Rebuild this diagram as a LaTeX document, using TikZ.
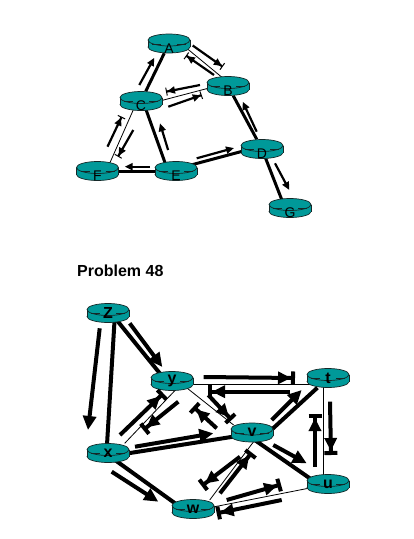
\documentclass[tikz,border=0pt]{standalone}
\usepackage{fontspec}
\setmainfont{Liberation Sans}
\usetikzlibrary{arrows.meta,calc,backgrounds}
\definecolor{rteal}{RGB}{0,153,153}
\definecolor{rdark}{RGB}{20,40,40}
\tikzset{
 rfill/.style={fill=rteal,draw=rdark,line width=0.7pt},
 rline/.style={draw=rdark,line width=0.7pt},
 tlab/.style={inner sep=0pt,minimum width=42pt,minimum height=19pt,text height=19pt,text depth=0pt,font=\fontsize{14}{14}\selectfont},
 blab/.style={inner sep=0pt,minimum width=42pt,minimum height=19pt,font=\fontsize{16}{16}\selectfont\bfseries},
 thinlink/.style={line width=0.8pt},
 tthick/.style={line width=3pt},
 bthick/.style={line width=4pt},
 tarr/.style={line width=2.2pt,-{Triangle[length=8pt,width=7pt]}},
 tbar/.style={line width=2.2pt,-{Triangle[length=8pt,width=7pt]Bar[width=8pt,line width=1pt]}},
 barr/.style={line width=4pt,-{Triangle[length=14pt,width=13pt]}},
 bbar/.style={line width=4pt,-{Triangle[length=13pt,width=12pt]Bar[width=13pt,line width=4pt]}},
}
\newcommand\routerdraw[1]{%
 \begin{scope}[shift={#1}]
   \filldraw[rfill] (0,3.5) ellipse [x radius=21pt,y radius=6pt];
   \fill[rteal] (-21,-3.5) rectangle (21,3.5);
   \draw[rline] (-21,-3.5)--(-21,3.5) (21,-3.5)--(21,3.5);
   \filldraw[rfill] (0,-3.5) ellipse [x radius=21pt,y radius=6pt];
   \draw[rline] (-17,0.5)--(-8,0.5) (8,0.5)--(17,0.5);
 \end{scope}}
\begin{document}
\begin{tikzpicture}[x=1pt,y=-1pt]
\useasboundingbox (0,0) rectangle (414,539);
% top routers
\routerdraw{(169,43.5)}\node[tlab] (A) at (169,43.5) {A};
\routerdraw{(228,86)}\node[tlab] (B) at (228,86) {B};
\routerdraw{(141,101)}\node[tlab] (C) at (141,101) {C};
\routerdraw{(262,149)}\node[tlab] (D) at (262,149) {D};
\routerdraw{(176,171)}\node[tlab] (E) at (176,171) {E};
\routerdraw{(97.5,171)}\node[tlab] (F) at (97.5,171) {F};
\routerdraw{(290,208)}\node[tlab] (G) at (290,208) {G};
% bottom routers
\routerdraw{(108,313)}\node[blab] (z) at (108,313) {Z};
\routerdraw{(172,381)}\node[blab] (y) at (172,381) {y};
\routerdraw{(328,378)}\node[blab] (t) at (328,378) {t};
\routerdraw{(252,432.5)}\node[blab] (v) at (252,432.5) {v};
\routerdraw{(328,484)}\node[blab] (u) at (328,484) {u};
\routerdraw{(108,453)}\node[blab] (x) at (108,453) {x};
\routerdraw{(193,509)}\node[blab] (w) at (193,509) {w};
% links
\begin{scope}[on background layer]
 \draw[tthick] (A) -- (C);
 \draw[thinlink] ($(A)+(18,5)$) -- ($(B)+(-4,-7)$);
 \draw[thinlink] ($(C)+(15,1)$) -- ($(B)+(-15,1)$);
 \draw[thinlink] ($(F)+(11,-5)$) -- ($(C)+(-6,5)$);
 \draw[tthick] ($(C)+(3,3)$) -- ($(E)+(-8,0)$);
 \draw[tthick] (F) -- (E);
 \draw[tthick] ($(E)+(0,-2)$) -- ($(D)+(0,-3)$);
 \draw[tthick] (B) -- (D);
 \draw[tthick] (D) -- ($(G)+(-5,0)$);
 \draw[bthick] ($(z)+(7,0)$) -- ($(x)+(-1.5,0)$);
 \draw[bthick] ($(z)+(3,0)$) -- ($(y)+(-6,0)$);
 \draw[thinlink] ($(y)+(10,3.5)$) -- ($(t)+(-10,6.5)$);
 \draw[thinlink] ($(y)+(6.6,5.7)$) -- ($(x)+(16.7,-9.7)$);
 \draw[thinlink] ($(y)+(13.3,5.7)$) -- ($(v)+(-18.4,-7.5)$);
 \draw[bthick] ($(x)+(0,3.5)$) -- ($(v)+(0,1.2)$);
 \draw[bthick] (t) -- ($(v)+(16,0.5)$);
 \draw[thinlink] ($(t)+(-5,0)$) -- ($(u)+(-5,0)$);
 \draw[bthick] ($(v)+(2,7)$) -- ($(u)+(-10,0)$);
 \draw[thinlink] ($(v)+(1.6,9.2)$) -- ($(w)+(16.7,-9)$);
 \draw[bthick] ($(x)+(0,2)$) -- ($(w)+(-10,0)$);
 \draw[thinlink] ($(w)+(21.7,-2.3)$) -- ($(u)+(-19.7,4.3)$);
\end{scope}
% top arrows
\draw[tarr] ($(C)+(-1.7,-16)$) -- ($(A)+(-14.7,14.3)$);
\draw[tbar] ($(A)+(23.7,2)$) -- ($(B)+(-5.3,-19.3)$);
\draw[tbar] ($(B)+(-14,-11)$) -- ($(A)+(17,12)$);
\draw[tbar] ($(B)+(-28,-1)$) -- ($(C)+(25,-9.3)$);
\draw[tbar] ($(C)+(27.3,5.7)$) -- ($(B)+(-26.3,9)$);
\draw[tbar] ($(F)+(10,-24.3)$) -- ($(C)+(-19.3,15.7)$);
\draw[tbar] ($(C)+(-7.7,29)$) -- ($(F)+(20.5,-14.3)$);
\draw[tarr] ($(E)+(-7.9,-21)$) -- ($(C)+(19,22.3)$);
\draw[tarr] ($(E)+(-26.2,-4.3)$) -- ($(F)+(27.2,-4.3)$);
\draw[tarr] ($(E)+(20.7,-12.7)$) -- ($(D)+(-28,-1)$);
\draw[tarr] ($(D)+(-5.3,-17.3)$) -- ($(B)+(14.7,15.7)$);
\draw[tarr] ($(D)+(13,14.3)$) -- ($(G)+(-0.7,-18)$);
% bottom arrows
\draw[barr] ($(z)+(-8.3,15.3)$) -- ($(x)+(-20,-23)$);
\draw[barr] ($(z)+(21.7,10.3)$) -- ($(y)+(-9.7,-14)$);
\draw[bbar] ($(y)+(31.6,-4)$) -- ($(t)+(-33,0)$);
\draw[bbar] ($(t)+(-38,13.7)$) -- ($(y)+(36,10.7)$);
\draw[bbar] ($(x)+(12,-18)$) -- ($(y)+(-8.7,12.3)$);
\draw[bbar] ($(y)+(6.3,20.7)$) -- ($(x)+(35.3,-23)$);
\draw[bbar] ($(y)+(36.3,14)$) -- ($(v)+(-20.3,-12.5)$);
\draw[bbar] ($(v)+(-35.3,-4.2)$) -- ($(y)+(21.3,25.7)$);
\draw[barr] ($(x)+(27,-6.3)$) -- ($(v)+(-38.7,0.8)$);
\draw[barr] ($(v)+(19.7,-12.5)$) -- ($(t)+(-26.3,12)$);
\draw[bbar] ($(t)+(2,23.7)$) -- ($(u)+(3,-29)$);
\draw[bbar] ($(u)+(-13,-17.3)$) -- ($(t)+(-13,36)$);
\draw[barr] ($(v)+(21.3,12.5)$) -- ($(u)+(-21.3,-20.7)$);
\draw[bbar] ($(v)+(-12,24.2)$) -- ($(w)+(8.7,-23)$);
\draw[bbar] ($(w)+(27,-15.7)$) -- ($(v)+(-0.3,20)$);
\draw[barr] ($(x)+(3.7,18.7)$) -- ($(w)+(-34.7,-7.3)$);
\draw[bbar] ($(w)+(33.7,-9)$) -- ($(u)+(-47,0.5)$);
\draw[bbar] ($(u)+(-46.3,16)$) -- ($(w)+(23.7,4.3)$);
% title
\node[anchor=base west,inner sep=0pt,font=\fontsize{16}{16}\selectfont\bfseries] (title) at (77,276) {Problem 48};
\end{tikzpicture}
\end{document}
